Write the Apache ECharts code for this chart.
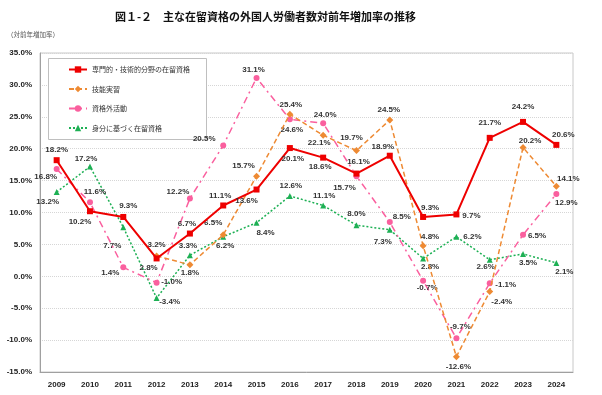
<!DOCTYPE html>
<html><head><meta charset="utf-8">
<script src="https://cdn.jsdelivr.net/npm/echarts@6/dist/echarts.min.js"></script>
<style>html,body{margin:0;padding:0;background:#fff}#c{width:602px;height:395px}</style>
</head><body><div id="c"></div>
<script>
const years = ['2009','2010','2011','2012','2013','2014','2015','2016','2017','2018','2019','2020','2021','2022','2023','2024'];
const yTicks = {min:-15, max:35, interval:5};
const senmon = [18.2,10.2,9.3,2.8,6.7,11.1,13.6,20.1,18.6,16.1,18.9,9.3,9.7,21.7,24.2,20.6];
const ginou  = [null,null,null,3.2,1.8,6.5,15.7,25.4,22.1,19.7,24.5,4.8,-12.6,-2.4,20.2,14.1];
const shikakugai = [16.8,11.6,1.4,-1.0,12.2,20.5,31.1,24.6,24.0,15.7,8.5,-0.7,-9.7,-1.1,6.5,12.9];
const mibun = [13.2,17.2,7.7,-3.4,3.3,6.2,8.4,12.6,11.1,8.0,7.3,2.8,6.2,2.6,3.5,2.1];
const names = ['専門的・技術的分野の在留資格','技能実習','資格外活動','身分に基づく在留資格'];

// label offsets (styling, relative to marker)
const offR = [[0,-10],[-10,11],[5,-11],[-8,9],[-3,-10],[-3,-10],[-10,11],[3,11],[-3,9],[2,-12],[-7,-9],[7,-9],[15,1],[0,-15],[0,-15],[7,-10]];
const offO = [null,null,null,[0,-11],[0,8],[-10,-12],[-13,-10],[1,-9],[-4,7],[-5,-13],[-1,-10],[7,-9],[2,10],[12,10],[7,-7],[12,-8]];
const offP = [[-11,8],[5,-10],[-13,5],[15,-1],[-12,-7],[-19,-7],[-3,-8],[2,10],[2,-8],[-12,12],[12,-5],[4,7],[4,-11],[16,1],[14,1],[10,9]];
const offG = [[-9,10],[-4,-8],[-11,19],[13,4],[-2,-9],[2,9],[9,10],[1,-10],[1,-10],[0,-11],[-7,12],[7,8],[16,0],[-4,7],[5,9],[8,9]];

function build(vals, offs){
  return vals.map((v,i)=> v===null ? null : {value:v, label:{offset:offs[i]}});
}
const labelBase = {show:true, position:'inside', formatter:p=>p.value.toFixed(1)+'%', fontFamily:'Liberation Sans', fontWeight:'bold', fontSize:8, color:'#333'};

const chart = echarts.init(document.getElementById('c'));
chart.setOption({
  animation:false,
  backgroundColor:'#fff',
  title:[
    {text:'図１-２　主な在留資格の外国人労働者数対前年増加率の推移', left:110, top:6,
     textStyle:{fontFamily:'Noto Sans CJK JP', fontWeight:'bold', fontSize:11, color:'#111'}},
    {text:'（対前年増加率）', left:2, top:26, textStyle:{fontFamily:'Noto Sans CJK JP', fontWeight:'normal', fontSize:6.5, color:'#555'}}
  ],
  graphic:[{type:'rect', left:48, top:58, z:3, shape:{width:158, height:81}, style:{fill:'#fff', stroke:'#BFBFBF', lineWidth:1}}],
  legend:{orient:'vertical', left:63, top:61, itemWidth:18, itemHeight:8, itemGap:12.5, z:5,
    textStyle:{fontFamily:'Noto Sans CJK JP', fontSize:7, color:'#333'}, data:names},
  grid:{left:40, right:29, top:53, bottom:23, show:true, borderColor:'#C8C8C8', borderWidth:1},
  xAxis:{type:'category', data:years, boundaryGap:true,
    axisLine:{onZero:false, lineStyle:{color:'#A0A0A0', width:1}}, axisTick:{show:false},
    axisLabel:{fontFamily:'Liberation Sans', fontWeight:'bold', fontSize:8, color:'#222', margin:9}},
  yAxis:{type:'value', min:yTicks.min, max:yTicks.max, interval:yTicks.interval,
    axisLine:{show:true, lineStyle:{color:'#A0A0A0', width:1}}, axisTick:{show:false},
    splitLine:{lineStyle:{color:'#D6D6D6', type:[1,1]}},
    axisLabel:{formatter:v=>v.toFixed(1)+'%', fontFamily:'Liberation Sans', fontWeight:'bold', fontSize:8, color:'#222', margin:8}},
  series:[
    {name:names[0], type:'line', data:build(senmon,offR), symbol:'rect', symbolSize:6, z:6,
      lineStyle:{color:'#EE0000', width:2}, itemStyle:{color:'#EE0000'}, label:labelBase},
    {name:names[1], type:'line', data:build(ginou,offO), symbol:'diamond', symbolSize:7, z:5,
      lineStyle:{color:'#EE8A33', width:1.5, type:[5,3]}, itemStyle:{color:'#EE8A33'}, label:labelBase},
    {name:names[2], type:'line', data:build(shikakugai,offP), symbol:'circle', symbolSize:6, z:4,
      lineStyle:{color:'#FA5F9E', width:1.5, type:[7,4,2,4]}, itemStyle:{color:'#FA5F9E'}, label:labelBase},
    {name:names[3], type:'line', data:build(mibun,offG), symbol:'triangle', symbolSize:6, z:3,
      lineStyle:{color:'#1DB054', width:1.5, type:[2,2]}, itemStyle:{color:'#1DB054'}, label:labelBase}
  ]
});
</script></body></html>
